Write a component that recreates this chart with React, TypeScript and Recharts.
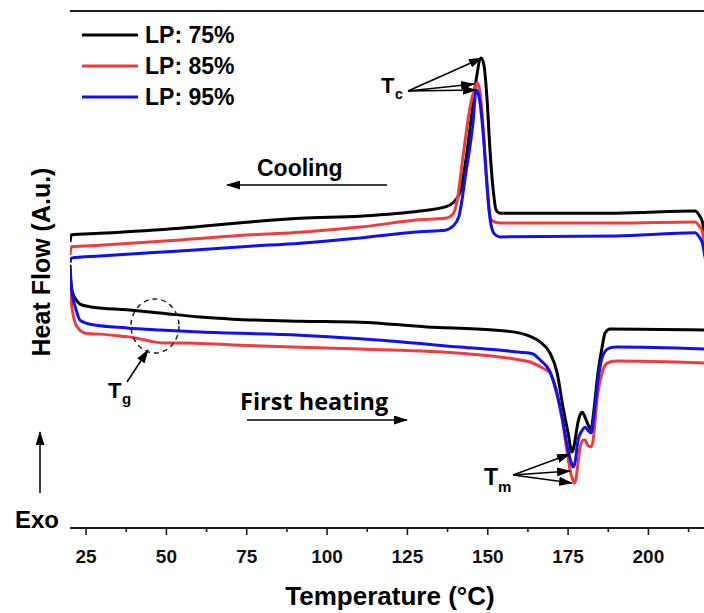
import React from 'react';
import { LineChart, Line, XAxis, YAxis, ReferenceLine } from 'recharts';

// Temperature axis ticks (°C)
const xTicks = [25, 37.5, 50, 62.5, 75, 87.5, 100, 112.5, 125, 137.5, 150, 162.5, 175, 187.5, 200, 212.5];
const majorTicks = [25, 50, 75, 100, 125, 150, 175, 200];

const seriesNames = ['LP: 75%', 'LP: 85%', 'LP: 95%'];
const seriesColors = ['#000000', '#f23b3b', '#1010f0'];

// Cooling scans: [temperature °C, heat flow a.u.]
const cooling75: [number, number][] = [
  [20.0, 5.53], [20.4, 5.67], [29.3, 5.70], [54.2, 5.80], [76.0, 5.92], [91.6, 5.99], [110.3, 6.03],
  [128.9, 6.13], [136.7, 6.21], [139.2, 6.29], [141.4, 6.50], [143.2, 7.12], [144.8, 7.89], [146.4, 8.67],
  [147.9, 9.09], [148.8, 8.96], [149.8, 8.28], [150.7, 7.31], [151.7, 6.54], [152.6, 6.15], [153.8, 6.09],
  [170, 6.09], [190, 6.09], [214.5, 6.13], [215.8, 6.05], [216.8, 5.92], [217.5, 5.67], [218.5, 5.38],
];
const cooling85: [number, number][] = [
  [20.0, 5.28], [20.4, 5.44], [29.3, 5.47], [54.2, 5.57], [76.0, 5.67], [91.6, 5.72], [110.3, 5.82],
  [128.9, 5.96], [136.7, 5.99], [139.2, 6.07], [140.5, 6.34], [142.3, 7.18], [144.5, 8.14], [146.1, 8.53],
  [146.7, 8.61], [147.6, 8.43], [148.5, 7.79], [149.5, 6.83], [150.4, 6.15], [151.4, 5.94], [153.8, 5.90],
  [190, 5.90], [214.5, 5.92], [215.8, 5.84], [216.8, 5.73], [217.5, 5.47], [218.5, 5.18],
];
const cooling95: [number, number][] = [
  [20.0, 5.13], [20.4, 5.22], [29.3, 5.26], [54.2, 5.36], [76.0, 5.45], [91.6, 5.51], [110.3, 5.61],
  [128.9, 5.73], [136.7, 5.76], [139.2, 5.84], [141.0, 6.02], [143.2, 6.87], [145.4, 7.83], [146.4, 8.47],
  [147.3, 8.34], [148.5, 7.70], [149.8, 6.63], [150.7, 5.99], [152.0, 5.69], [153.8, 5.63],
  [190, 5.65], [214.5, 5.71], [215.8, 5.63], [216.8, 5.51], [217.5, 5.28], [218.5, 4.99],
];

// First heating scans: [temperature °C, heat flow a.u.]
const heating75: [number, number][] = [
  [20.0, 5.09], [20.3, 4.76], [20.8, 4.55], [22.2, 4.39], [23.1, 4.33], [27.2, 4.27], [37.7, 4.22],
  [48.0, 4.16], [60.5, 4.08], [70.7, 4.04], [91.6, 4.00], [110.3, 3.98], [131.1, 3.89], [151.7, 3.83],
  [160.1, 3.77], [163.0, 3.71], [166.3, 3.60], [169.4, 3.38], [171.6, 3.00], [173.4, 2.34], [175.0, 1.84],
  [176.2, 1.47], [177.2, 1.70], [177.8, 1.95], [178.7, 2.18], [179.4, 2.24], [180.3, 2.14], [181.2, 2.00],
  [182.2, 1.91], [182.8, 2.15], [184.3, 3.00], [185.6, 3.50], [186.5, 3.77], [188.1, 3.85], [218.5, 3.83],
];
const heating85: [number, number][] = [
  [20.0, 4.80], [20.3, 4.41], [22.2, 3.89], [25.3, 3.76], [29.3, 3.75], [36.0, 3.71], [40.0, 3.68],
  [43.0, 3.64], [46.0, 3.60], [49.0, 3.58], [55.0, 3.58], [70.7, 3.54], [110.3, 3.46], [141.4, 3.38],
  [160.1, 3.25], [163.2, 3.21], [167.2, 3.09], [169.4, 3.00], [171.3, 2.63], [173.2, 2.09], [174.7, 1.47],
  [175.9, 1.04], [176.6, 0.91], [177.0, 0.87], [177.5, 0.97], [178.1, 1.26], [178.7, 1.55], [179.7, 1.70],
  [180.3, 1.70], [181.2, 1.59], [182.2, 1.57], [182.8, 1.70], [184.0, 2.48], [185.6, 3.00], [186.8, 3.17],
  [188.1, 3.21], [190, 3.23], [218.5, 3.19],
];
const heating95: [number, number][] = [
  [20.0, 5.03], [20.3, 4.70], [20.6, 4.56], [22.2, 4.16], [23.1, 4.02], [27.2, 3.93], [37.7, 3.87],
  [48.0, 3.83], [60.5, 3.79], [91.6, 3.73], [110.3, 3.66], [141.4, 3.50], [160.1, 3.40], [163.9, 3.37],
  [166.3, 3.25], [169.4, 3.02], [171.3, 2.67], [173.2, 2.13], [174.7, 1.60], [175.9, 1.28], [176.6, 1.18],
  [177.2, 1.28], [178.1, 1.70], [179.4, 1.89], [180.3, 1.95], [181.2, 1.89], [182.2, 1.84], [183.1, 2.19],
  [184.3, 2.86], [185.9, 3.35], [187.8, 3.48], [190, 3.50], [218.5, 3.46],
];

const toRows = (arr: [number, number][]) => arr.map(([t, v]) => ({ t, v }));

const curves = [
  { key: 'c75', data: toRows(cooling75), color: seriesColors[0] },
  { key: 'c85', data: toRows(cooling85), color: seriesColors[1] },
  { key: 'c95', data: toRows(cooling95), color: seriesColors[2] },
  { key: 'h75', data: toRows(heating75), color: seriesColors[0] },
  { key: 'h85', data: toRows(heating85), color: seriesColors[1] },
  { key: 'h95', data: toRows(heating95), color: seriesColors[2] },
];

const FONT = '"Liberation Sans", Arial, Helvetica, sans-serif';
const AXIS = '#1e1e1e';

const XTick = (props: any) => {
  const { x, y, payload } = props;
  const major = majorTicks.includes(payload.value);
  return (
    <g>
      <line x1={x} x2={x} y1={y} y2={y + (major ? 7 : 4)} stroke={AXIS} strokeWidth={1.6} />
      {major && (
        <text x={x} y={y + 35} textAnchor="middle" fontFamily={FONT} fontWeight="bold" fontSize={19} fill="#111">
          {payload.value}
        </text>
      )}
    </g>
  );
};

export default function App() {
  return (
    <div style={{ position: 'absolute', left: 0, top: 0, width: 704, height: 613, background: '#fff' }}>
      <LineChart width={704} height={613} margin={{ top: 11, right: 0, bottom: 0, left: 70 }}>
        <XAxis
          type="number"
          dataKey="t"
          domain={[20, 217.3]}
          allowDataOverflow
          ticks={xTicks}
          interval={0}
          tick={<XTick />}
          tickLine={false}
          tickSize={0}
          tickMargin={0}
          height={85}
          axisLine={{ stroke: AXIS, strokeWidth: 1.8 }}
        />
        <YAxis
          type="number"
          domain={[0, 10]}
          allowDataOverflow
          width={0}
          tick={false}
          tickLine={false}
          axisLine={{ stroke: AXIS, strokeWidth: 1.8 }}
        />
        <ReferenceLine y={10} stroke={AXIS} strokeWidth={1.8} />
        {curves.map((c) => (
          <Line
            key={c.key}
            data={c.data}
            dataKey="v"
            type="monotone"
            stroke={c.color}
            strokeWidth={3}
            dot={false}
            activeDot={false}
            isAnimationActive={false}
          />
        ))}
      </LineChart>
      <svg
        width={704}
        height={613}
        style={{ position: 'absolute', left: 0, top: 0, pointerEvents: 'none' }}
      >
        <defs>
          <marker id="ah" markerUnits="userSpaceOnUse" markerWidth={14} markerHeight={9} refX={13} refY={4.5} orient="auto">
            <path d="M0,0 L14,4.5 L0,9 z" fill="#000" />
          </marker>
        </defs>
        {/* Legend */}
        {seriesNames.map((n, i) => (
          <g key={n}>
            <line x1={82} x2={138} y1={35 + i * 31} y2={35 + i * 31} stroke={seriesColors[i]} strokeWidth={3.2} />
            <text x={145} y={43 + i * 31} fontFamily={FONT} fontWeight="bold" fontSize={23} fill="#000">{n}</text>
          </g>
        ))}
        {/* Cooling */}
        <text x={257} y={176} fontFamily={FONT} fontWeight="bold" fontSize={23} fill="#000">Cooling</text>
        <line x1={387} y1={185} x2={227} y2={185} stroke="#000" strokeWidth={1.5} markerEnd="url(#ah)" />
        {/* First heating */}
        <text x={240} y={410} fontFamily='"Open Sans", sans-serif' fontWeight="bold" fontSize={23.5} fill="#000">First heating</text>
        <line x1={247} y1={420} x2={407} y2={420} stroke="#000" strokeWidth={1.5} markerEnd="url(#ah)" />
        {/* Tc */}
        <text x={381} y={93} fontFamily={FONT} fontWeight="bold" fontSize={22} fill="#000">T</text>
        <text x={395} y={99} fontFamily={FONT} fontWeight="bold" fontSize={14} fill="#000">c</text>
        <line x1={408} y1={91} x2={482} y2={58} stroke="#000" strokeWidth={1.5} markerEnd="url(#ah)" />
        <line x1={408} y1={91} x2={474} y2={84} stroke="#000" strokeWidth={1.5} markerEnd="url(#ah)" />
        <line x1={408} y1={91} x2={476} y2={90} stroke="#000" strokeWidth={1.5} markerEnd="url(#ah)" />
        {/* Tm */}
        <text x={484} y={485} fontFamily={FONT} fontWeight="bold" fontSize={23} fill="#000">T</text>
        <text x={498} y={492} fontFamily={FONT} fontWeight="bold" fontSize={15} fill="#000">m</text>
        <line x1={513} y1={475} x2={570} y2={454} stroke="#000" strokeWidth={1.5} markerEnd="url(#ah)" />
        <line x1={513} y1={475} x2={570} y2={471} stroke="#000" strokeWidth={1.5} markerEnd="url(#ah)" />
        <line x1={513} y1={475} x2={572} y2={483} stroke="#000" strokeWidth={1.5} markerEnd="url(#ah)" />
        {/* Tg */}
        <ellipse cx={155} cy={326} rx={24} ry={27} fill="none" stroke="#222" strokeWidth={1.5} strokeDasharray="5 4" />
        <line x1={127} y1={382} x2={148} y2={350} stroke="#000" strokeWidth={1.5} markerEnd="url(#ah)" />
        <text x={108} y={398} fontFamily={FONT} fontWeight="bold" fontSize={22} fill="#000">T</text>
        <text x={122} y={404} fontFamily={FONT} fontWeight="bold" fontSize={15} fill="#000">g</text>
        {/* Axis titles */}
        <text
          x={50}
          y={262}
          transform="rotate(-90 50 262)"
          textAnchor="middle"
          fontFamily={FONT}
          fontWeight="bold"
          fontSize={25}
          fill="#000"
        >
          Heat Flow (A.u.)
        </text>
        <text x={390} y={605} textAnchor="middle" fontFamily={FONT} fontWeight="bold" fontSize={26} fill="#000">
          Temperature (°C)
        </text>
        {/* Exo */}
        <line x1={40} y1={493} x2={40} y2={432} stroke="#000" strokeWidth={1.5} markerEnd="url(#ah)" />
        <text x={15} y={528} fontFamily={FONT} fontWeight="bold" fontSize={24} fill="#000">Exo</text>
      </svg>
    </div>
  );
}
